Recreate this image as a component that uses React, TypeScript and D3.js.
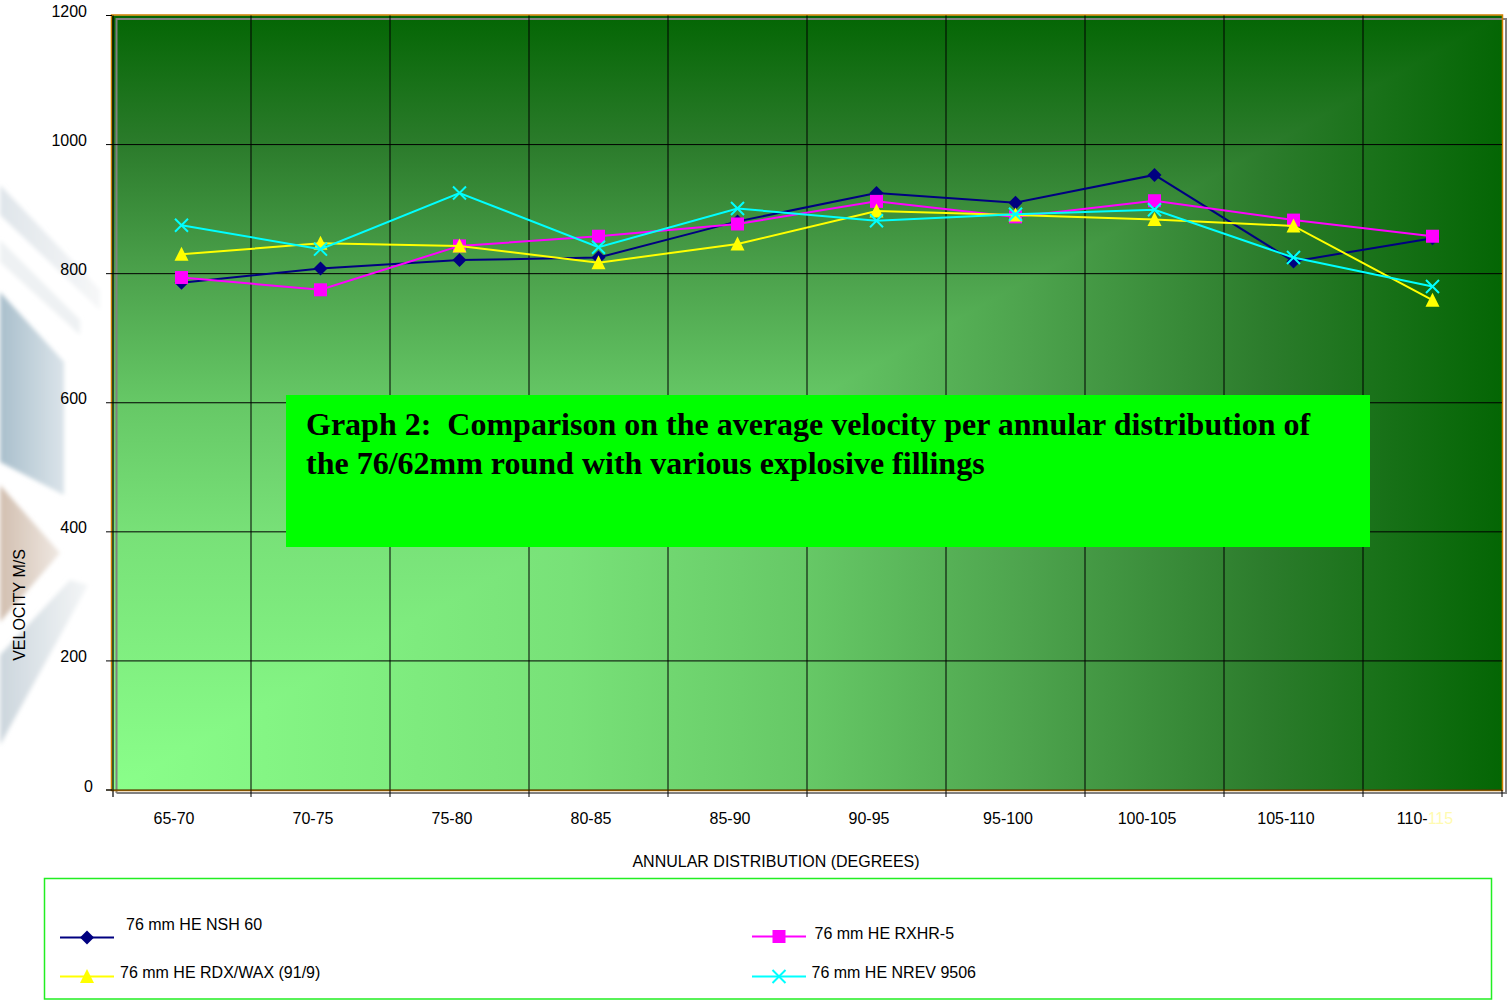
import React from "react";
import * as d3 from "d3";

const categories = ["65-70", "70-75", "75-80", "80-85", "85-90", "90-95", "95-100", "100-105", "105-110", "110-115"];
const nsh60 = [786, 808, 821, 825, 881, 925, 910, 953, 819, 855];
const rxhr5 = [794, 775, 843, 858, 877, 912, 888, 913, 883, 858];
const rdxWax = [830, 847, 843, 817, 846, 897, 891, 884, 874, 759];
const nrev9506 = [875, 838, 925, 841, 901, 882, 892, 899, 825, 780];
const yTicks = [0, 200, 400, 600, 800, 1000, 1200];
const seriesNames = ["76 mm HE NSH 60", "76 mm HE RXHR-5", "76 mm HE RDX/WAX (91/9)", "76 mm HE NREV 9506"];

const W = 1509, H = 1004;
const L = 112, R = 1502, T = 15.5, B = 790;

const x = d3.scaleBand<string>().domain(categories).range([L, R]).padding(0);
const y = d3.scaleLinear().domain([0, 1200]).range([B, T]);
const cx = (c: string) => (x(c) as number) + x.bandwidth() / 2;

type Marker = "diamond" | "square" | "triangle" | "x";
const series = [
  { name: seriesNames[0], values: nsh60, color: "#000080", marker: "diamond" as Marker },
  { name: seriesNames[1], values: rxhr5, color: "#ff00ff", marker: "square" as Marker },
  { name: seriesNames[2], values: rdxWax, color: "#ffff00", marker: "triangle" as Marker },
  { name: seriesNames[3], values: nrev9506, color: "#00ffff", marker: "x" as Marker },
];

function MarkerShape({ m, px, py, color }: { m: Marker; px: number; py: number; color: string }) {
  if (m === "diamond") return <path d={`M${px},${py - 7}L${px + 7},${py}L${px},${py + 7}L${px - 7},${py}Z`} fill={color} />;
  if (m === "square") return <rect x={px - 6.5} y={py - 6.5} width={13} height={13} fill={color} />;
  if (m === "triangle") return <path d={`M${px},${py - 7.5}L${px + 7},${py + 6.5}L${px - 7},${py + 6.5}Z`} fill={color} />;
  return <path d={`M${px - 6.5},${py - 6.5}L${px + 6.5},${py + 6.5}M${px + 6.5},${py - 6.5}L${px - 6.5},${py + 6.5}`} stroke={color} strokeWidth={2} fill="none" />;
}

const gradStops: [number, string][] = [
  [0, "#8aff8a"], [0.33, "#78e178"], [0.5, "#66c866"], [0.66, "#4da34d"], [0.83, "#2c7c2c"], [1, "#046604"],
];

export default function App() {
  const line = d3.line<number>().x((_, i) => cx(categories[i])).y((v) => y(v));
  const font = "Arial, 'Liberation Sans', sans-serif";
  const grey = "#808080";
  return (
    <svg width={W} height={H} style={{ position: "absolute", left: 0, top: 0, background: "#fff" }} fontFamily={font}>
      <defs>
        <linearGradient id="gH" gradientUnits="userSpaceOnUse" x1={L} y1={0} x2={R} y2={0}>
          {gradStops.map(([o, c]) => <stop key={o} offset={o} stopColor={c} />)}
        </linearGradient>
        <linearGradient id="gV" gradientUnits="userSpaceOnUse" x1={0} y1={B} x2={0} y2={T}>
          {gradStops.map(([o, c]) => <stop key={o} offset={o} stopColor={c} />)}
        </linearGradient>
        <linearGradient id="blueG" x1="0" y1="0" x2="1" y2="0">
          <stop offset="0" stopColor="#a9bfcc" />
          <stop offset="1" stopColor="#dbe4ea" />
        </linearGradient>
        <linearGradient id="brownG" x1="0" y1="0" x2="1" y2="0">
          <stop offset="0" stopColor="#d2bfb0" />
          <stop offset="1" stopColor="#efe8e2" />
        </linearGradient>
        <linearGradient id="greyG" x1="0" y1="0" x2="1" y2="0">
          <stop offset="0" stopColor="#ccd6dd" />
          <stop offset="1" stopColor="#f4f6f7" />
        </linearGradient>
        <linearGradient id="bandG" x1="0" y1="0" x2="1" y2="0">
          <stop offset="0" stopColor="#dfe5ea" />
          <stop offset="1" stopColor="#f6f7f8" />
        </linearGradient>
        <filter id="soft"><feGaussianBlur stdDeviation="2" /></filter>
      </defs>
      <rect x={0} y={0} width={W} height={H} fill="#fff" />
      {/* left decorative background */}
      <g filter="url(#soft)">
        <polygon points="0,185 100,290 100,310 0,215" fill="url(#bandG)" />
        <polygon points="0,240 80,320 80,335 0,262" fill="#eef1f3" />
        <polygon points="0,292 64,362 64,495 0,462" fill="url(#blueG)" />
        <polygon points="0,485 60,553 0,622" fill="url(#brownG)" />
        <polygon points="0,655 70,580 88,585 0,745" fill="url(#greyG)" />
      </g>

      {/* plot background: rectangular gradient from bottom-left corner */}
      <rect x={L} y={T} width={R - L} height={B - T} fill="url(#gH)" />
      <polygon points={`${L},${B} ${L},${T} ${R},${T}`} fill="url(#gV)" />
      <path d={`M${L + 4.5},${B + 3}V${T + 3.5}H${R + 4}V${B + 3}H${L + 4.5}`} fill="none" stroke={grey} strokeWidth={2} />
      <rect x={L - 0.5} y={T - 0.5} width={R - L + 1} height={B - T + 1} fill="none" stroke="#d08000" strokeWidth={1.5} />

      {/* grid */}
      {yTicks.filter((t) => t > 0 && t < 1200).map((t) => (
        <line key={"h" + t} x1={L} x2={R} y1={y(t)} y2={y(t)} stroke="#000" strokeWidth={1} />
      ))}
      {categories.slice(1).map((c) => (
        <line key={"v" + c} x1={x(c) as number} x2={x(c) as number} y1={T} y2={B + 7} stroke="#000" strokeWidth={1} />
      ))}
      {/* axes */}
      <line x1={L + 1} x2={L + 1} y1={T} y2={B + 7} stroke="#000" strokeWidth={1.2} />
      <line x1={L - 6} x2={R} y1={B} y2={B} stroke="#3a2a00" strokeWidth={1.2} />
      <line x1={R} x2={R} y1={B} y2={B + 7} stroke="#000" strokeWidth={1} />
      {yTicks.map((t) => (
        <g key={"yt" + t}>
          <line x1={L - 6} x2={L} y1={y(t)} y2={y(t)} stroke="#000" strokeWidth={1} />
          <text x={t === 0 ? 93 : 87} y={y(t) + 1.5} textAnchor="end" fontSize={16} fill="#000">{t}</text>
        </g>
      ))}
      {categories.map((c) => {
        const parts = c.split("-");
        const last = c === categories[categories.length - 1];
        return (
          <text key={"xt" + c} x={cx(c) - 7.5} y={824} textAnchor="middle" fontSize={16} fill="#000">
            {last ? (
              <>
                <tspan>{parts[0] + "-"}</tspan>
                <tspan fill="#fffbb0">{parts[1]}</tspan>
              </>
            ) : c}
          </text>
        );
      })}
      <text x={776} y={867} textAnchor="middle" fontSize={16} fill="#000">ANNULAR DISTRIBUTION (DEGREES)</text>
      <text transform="translate(25,605) rotate(-90)" textAnchor="middle" fontSize={16} fill="#000">VELOCITY M/S</text>

      {/* title box */}
      <rect x={286} y={395} width={1084} height={152} fill="#00ff00" />
      <g fontFamily="'Times New Roman', 'Liberation Serif', serif" fontWeight="bold" fontSize={32} fill="#000">
        <text x={306} y={434.5} style={{ whiteSpace: "pre" }}>{"Graph 2:  Comparison on the average velocity per annular distribution of"}</text>
        <text x={306} y={473.5}>the 76/62mm round with various explosive fillings</text>
      </g>

      {/* series */}
      {series.map((s) => (
        <g key={s.name}>
          <path d={line(s.values) || ""} fill="none" stroke={s.color} strokeWidth={2} />
          {s.values.map((v, i) => (
            <MarkerShape key={i} m={s.marker} px={cx(categories[i])} py={y(v)} color={s.color} />
          ))}
        </g>
      ))}

      {/* legend */}
      <rect x={44.5} y={878.5} width={1447} height={120.5} fill="#fff" stroke="#22ee22" strokeWidth={1.5} />
      {[
        { s: series[0], lx: 60, ly: 937.5, tx: 126, ty: 930 },
        { s: series[2], lx: 60, ly: 976.5, tx: 120, ty: 978 },
        { s: series[1], lx: 752, ly: 936.5, tx: 814.5, ty: 939 },
        { s: series[3], lx: 752, ly: 976.5, tx: 811.5, ty: 978 },
      ].map((e) => (
        <g key={"lg" + e.s.name}>
          <line x1={e.lx} x2={e.lx + 54} y1={e.ly} y2={e.ly} stroke={e.s.color} strokeWidth={2} />
          <MarkerShape m={e.s.marker} px={e.lx + 27} py={e.ly} color={e.s.color} />
          <text x={e.tx} y={e.ty} fontSize={16} fill="#000">{e.s.name}</text>
        </g>
      ))}
    </svg>
  );
}
